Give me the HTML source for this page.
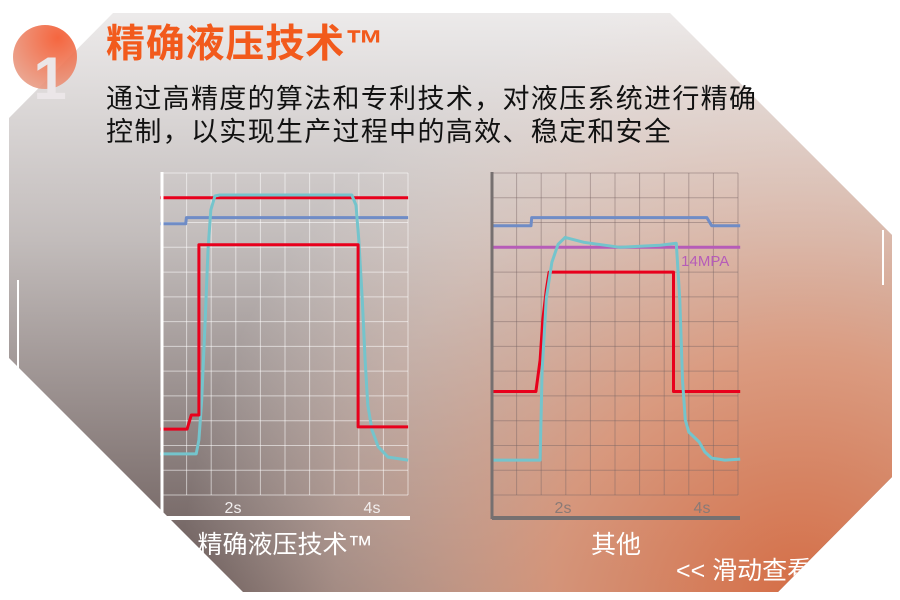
<!DOCTYPE html>
<html><head><meta charset="utf-8"><style>
html,body{margin:0;padding:0;background:#fff;}
svg{display:block;font-family:"Liberation Sans","Noto Sans CJK SC",sans-serif;}
</style></head><body>
<svg id="s" width="900" height="600" viewBox="0 0 900 600">
<defs>
<linearGradient id="gGrey" x1="0" y1="0" x2="0" y2="1">
<stop offset="0" stop-color="#efeded"/><stop offset="0.4" stop-color="#c2bcbb"/><stop offset="1" stop-color="#65\55\53"/>
</linearGradient>
<linearGradient id="gGrey2" x1="0" y1="0" x2="0" y2="1">
<stop offset="0" stop-color="#efeded"/><stop offset="0.4" stop-color="#c2bcbb"/><stop offset="1" stop-color="#655553"/>
</linearGradient>
<radialGradient id="gOr" cx="800" cy="600" r="620" gradientUnits="userSpaceOnUse">
<stop offset="0" stop-color="#d56d45" stop-opacity="1"/>
<stop offset="0.4" stop-color="#e29c7e" stop-opacity="0.88"/>
<stop offset="0.75" stop-color="#eccabb" stop-opacity="0.45"/>
<stop offset="1" stop-color="#f2e2da" stop-opacity="0"/>
</radialGradient>
<radialGradient id="gBadge" cx="0.7" cy="0.2" r="0.9">
<stop offset="0" stop-color="#f4552a"/><stop offset="1" stop-color="#e8a08a"/>
</radialGradient>
<clipPath id="card"><polygon points="113,13 670,13 892,235 892,477 778,592 243,592 9,358 9,118"/></clipPath>
</defs>
<g clip-path="url(#card)">
<rect x="0" y="0" width="900" height="600" fill="url(#gGrey2)"/>
<rect x="0" y="0" width="900" height="600" fill="url(#gOr)"/>
<text x="676" y="579" font-size="25" fill="#fff">&lt;&lt; 滑动查看</text>
</g>
<line x1="18" y1="280" x2="18" y2="368" stroke="#fff" stroke-width="2"/>
<line x1="883" y1="230" x2="883" y2="285" stroke="#fff" stroke-width="2"/>
<g>
<circle cx="45" cy="57" r="32" fill="url(#gBadge)" opacity="0.9"/>
<text x="50" y="99" font-size="60" font-weight="bold" fill="#ebe6e8" text-anchor="middle">1</text>
</g>
<text x="106" y="57" font-size="39" font-weight="bold" fill="#f25a1c" textLength="278">精确液压技术™</text>
<text x="106" y="108" font-size="27" fill="#111" textLength="650">通过高精度的算法和专利技术，对液压系统进行精确</text>
<text x="106" y="141" font-size="27" fill="#111" textLength="565">控制，以实现生产过程中的高效、稳定和安全</text>
<text x="285" y="553" font-size="25" fill="#fff" text-anchor="middle">精确液压技术™</text>
<text x="616" y="553" font-size="25" fill="#fff" text-anchor="middle">其他</text>
<g id="charts"></g>
</svg>
<script>
// x values in seconds, y values in grid units
const xTicks = [2, 4];
const xTickLabels = ['2s', '4s'];
const gridCols = 10, gridRows = 13;

const L_redTopT = [0.95, 4.52];
const L_redTopV = [12.0, 12.0];
const L_blueT = [0.95, 1.32, 1.33, 4.52];
const L_blueV = [10.95, 10.95, 11.2, 11.2];
const L_redT = [0.95, 1.34, 1.40, 1.51, 1.51, 3.80, 3.80, 4.52];
const L_redV = [2.66, 2.66, 3.23, 3.23, 10.1, 10.1, 2.75, 2.75];
const L_cyanT = [0.95, 1.47, 1.51, 1.55, 1.60, 1.64, 1.68, 1.74, 1.81, 3.71, 3.77, 3.81, 3.86, 3.90, 3.94, 4.00, 4.09, 4.23, 4.52];
const L_cyanV = [1.66, 1.66, 2.22, 3.84, 7.07, 9.89, 11.5, 12.07, 12.11, 12.11, 11.7, 10.3, 7.87, 5.45, 3.63, 2.62, 1.94, 1.53, 1.41];

const R_blueT = [0.98, 1.54, 1.55, 4.07, 4.14, 4.55];
const R_blueV = [10.87, 10.87, 11.2, 11.2, 10.87, 10.87];
const R_magT = [0.98, 4.55];
const R_magV = [10.0, 10.0];
const R_redT = [0.98, 1.61, 1.67, 1.71, 1.76, 1.80, 3.59, 3.59, 4.55];
const R_redV = [4.18, 4.18, 5.45, 7.07, 8.28, 9.0, 9.0, 4.18, 4.18];
const R_cyanT = [0.98, 1.67, 1.70, 1.76, 1.84, 1.93, 2.03, 2.30, 2.82, 3.40, 3.63, 3.68, 3.72, 3.76, 3.81, 3.96, 4.04, 4.14, 4.33, 4.55];
const R_cyanV = [1.41, 1.41, 5.0, 7.95, 9.4, 10.12, 10.4, 10.2, 10.0, 10.08, 10.16, 7.87, 4.64, 3.03, 2.54, 2.14, 1.74, 1.49, 1.41, 1.45];

const NS = 'http://www.w3.org/2000/svg';
const root = document.getElementById('charts');
function mk(tag, attrs, parent){const e=document.createElementNS(NS,tag);for(const k in attrs)e.setAttribute(k,attrs[k]);parent.appendChild(e);return e;}

function drawChart(off, name, axisColor, gridColor, series, label){
  const xs = t => 94 + off + t * 69.5;
  const ys = v => 495 - v * 24.77;
  const g = mk('g', {}, root);
  
  
  const x0 = 162 + off, x1 = 408 + off;
  const cw = (x1 - x0) / gridCols, ch = (495 - 173) / gridRows;
  for (let i = 1; i <= gridCols; i++) {
    const l = mk('line', {x1: x0 + i*cw, x2: x0 + i*cw, y1: 173, y2: 495, stroke: gridColor, 'stroke-width': 1}, g);
    
    
  }
  for (let j = 0; j <= gridRows; j++) {
    const l = mk('line', {x1: x0, x2: x1, y1: 173 + j*ch, y2: 173 + j*ch, stroke: gridColor, 'stroke-width': 1}, g);
    
    
  }
  xTicks.forEach((t, i) => {
    const tx = mk('text', {x: xs(t), y: 513, 'font-size': 16, fill: axisColor === '#fff' ? '#f2eeee' : '#8a7a76', 'text-anchor': 'middle'}, g);
    tx.textContent = xTickLabels[i];
    
    
  });
  series.forEach(s => {
    const d = s.t.map((t, i) => (i ? 'L' : 'M') + xs(t).toFixed(1) + ',' + ys(s.v[i]).toFixed(1)).join('');
    const p = mk('path', {d: d, fill: 'none', stroke: s.c, 'stroke-width': s.w, 'stroke-linejoin': 'round'}, g);
    
    
  });
  const ya = mk('line', {x1: x0, x2: x0, y1: 172, y2: 519, stroke: axisColor, 'stroke-width': 3}, g);
  
  
  const xa = mk('line', {x1: x0, x2: x1 + 2, y1: 518, y2: 518, stroke: axisColor, 'stroke-width': 4}, g);
  
  
  if (label) {
    const lt = mk('text', {x: xs(label.t), y: ys(label.v), 'font-size': 15, fill: '#b65cb8'}, g);
    lt.textContent = label.s;
    
    
  }
}

drawChart(0, 'precise-hydraulic-chart', '#fff', 'rgba(255,255,255,0.55)', [
  {t: L_blueT, v: L_blueV, c: '#6f8cc6', w: 3, n: 'blue-line'},
  {t: L_redTopT, v: L_redTopV, c: '#e8001c', w: 3, n: 'red-limit-line'},
  {t: L_cyanT, v: L_cyanV, c: '#74c4cc', w: 3, n: 'cyan-pressure-line'},
  {t: L_redT, v: L_redV, c: '#e8001c', w: 3, n: 'red-command-line'}
]);
drawChart(330, 'other-chart', '#767070', 'rgba(120,100,100,0.45)', [
  {t: R_blueT, v: R_blueV, c: '#6f8cc6', w: 3, n: 'blue-line'},
  {t: R_magT, v: R_magV, c: '#b65cb8', w: 3, n: 'magenta-14mpa-line'},
  {t: R_redT, v: R_redV, c: '#e8001c', w: 3, n: 'red-command-line'},
  {t: R_cyanT, v: R_cyanV, c: '#74c4cc', w: 3, n: 'cyan-pressure-line'}
], {t: 3.70, v: 9.25, s: '14MPA'});
</script>
</body></html>
